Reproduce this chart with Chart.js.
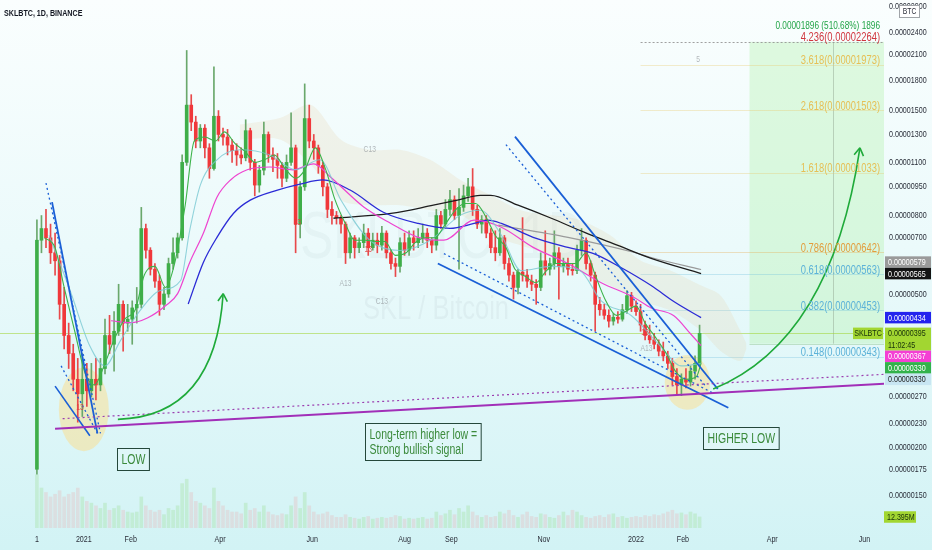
<!DOCTYPE html>
<html><head><meta charset="utf-8">
<script src="https://cdn.jsdelivr.net/npm/chart.js@4.4.1/dist/chart.umd.min.js"></script>
<style>html,body{margin:0;padding:0;overflow:hidden;background:#eefbfc}#c{display:block}</style>
</head><body>
<canvas id="c" width="932" height="550"></canvas>
<script>
// ---------- DATA (prices in satoshi = 1e-8 BTC, x = days from 2021-01-01) ----------
const firstCandleDay = -31;          // 2020-12-01
const candleStep = 3;                // each drawn candle = 3 days
const opens = [175,690,740,700,640,610,470,390,350,300, 275,300,280,300,290,320,390,370,400,470,
 420,430,460,470,740,650,580,540,470,500, 600,640,700,1100,1550,1400,1250,1350,1200,1060,
 1450,1300,1280,1220,1180,1150,1130,1330,1100,960, 1050,1300,1150,1120,1080,1000,1100,1200,760,950,
 1430,1250,1200,1080,950,830,800,790,760,640, 700,660,680,720,660,690,670,720,640,600,
 590,680,650,700,680,700,720,690,670,800, 760,830,880,800,840,900,950,830,760,780,
 720,660,640,700,600,560,520,570,560,540, 530,520,610,580,600,640,590,600,580,575,
 650,690,600,560,470,455,440,425,435,430, 455,495,465,450,415,390,380,370,355,345,
 330,305,290,300,295,315,330];
const highs = [780,800,830,760,720,630,520,420,370,340, 350,330,330,340,340,430,440,450,530,480,
 470,480,520,840,760,660,600,560,520,620, 700,720,1150,2150,1650,1450,1380,1380,1230,1950,
 1500,1350,1340,1260,1230,1200,1420,1350,1120,1080, 1400,1320,1200,1160,1100,1150,1480,1220,980,1760,
 1550,1300,1220,1100,970,870,820,800,770,720, 710,700,760,740,720,720,750,730,650,620,
 700,720,730,730,740,760,740,700,830,820, 880,930,900,940,960,1000,1060,850,800,800,
 740,730,740,710,620,570,580,790,580,560, 545,640,730,620,730,660,620,620,600,670,
 740,700,610,570,490,470,455,445,450,470, 510,505,480,470,425,415,395,380,375,355,
 340,320,310,320,325,345,415];
const lows = [170,640,660,600,560,430,360,320,280,232, 240,255,270,265,280,310,350,315,390,355,
 400,370,420,460,620,560,520,440,455,490, 580,620,690,1080,1330,1200,1200,1130,1000,1050,
 1250,1220,1150,1100,1080,1090,1110,1050,900,920, 1020,1100,1040,1000,950,980,1080,640,700,930,
 1200,1120,1030,900,790,760,760,720,600,620, 620,640,660,630,650,640,650,620,580,555,
 570,630,630,650,660,680,660,640,650,740, 740,800,780,580,820,870,800,740,720,700,
 640,610,630,580,540,485,500,540,520,510, 470,510,560,560,580,485,570,560,560,565,
 630,580,540,400,440,430,410,415,420,425, 445,450,440,400,380,372,360,345,335,320,
 290,275,272,285,288,300,325];
const closes = [690,740,700,640,610,470,390,350,300,275, 300,280,300,290,320,390,370,400,470,420,
 430,460,470,740,650,580,540,470,500,600, 640,700,1100,1550,1400,1250,1350,1200,1060,1450,
 1300,1280,1220,1180,1150,1130,1330,1100,960,1050, 1300,1150,1120,1080,1000,1100,1200,760,950,1430,
 1250,1200,1080,950,830,800,790,760,640,700, 660,680,720,660,690,670,720,640,600,590,
 680,650,700,680,700,720,690,670,800,760, 830,880,800,840,900,950,830,760,780,720,
 660,640,700,600,560,520,570,560,540,530, 520,610,580,600,640,590,600,580,575,650,
 690,600,560,470,455,440,425,435,430,455, 495,465,450,415,390,380,370,355,345,330,
 305,290,300,295,315,330,395];
const volumes = [60,45,40,35,38,42,35,38,40,45, 35,30,28,25,22,28,20,22,25,20,
 18,17,18,35,25,20,18,20,15,22, 20,25,50,55,40,30,28,25,22,45,
 30,25,20,18,18,16,28,20,22,18, 25,18,15,14,16,15,25,35,22,40,
 25,18,15,16,18,14,12,12,15,12, 11,10,12,13,10,11,12,11,12,14,
 13,10,11,10,11,12,10,11,18,14, 16,20,15,22,18,25,18,14,12,14,
 12,13,18,16,20,14,12,15,18,13, 12,16,15,12,11,14,18,14,20,18,
 14,12,11,13,14,12,15,16,12,13, 11,12,13,12,14,13,15,14,16,18,
 20,16,17,15,18,16,12.395];

// moving averages
const fastMaDays = [-26,-19,-13,-6,1,7,14,20,27,34,40,47,54,60,67,73,80,87,93,100,107,113,120,126,133,140,146,153,160,166,173,179,186,193,199,206,213,219,226,232,239,246,252,259,266,272,279,285,292,299,305,312,318,325,332,338,345,352,358,365,371,378,385,391,398,405,408];
const fastMaValues = [700,660,520,400,310,290,330,380,430,455,560,590,520,600,850,1250,1280,1250,1320,1230,1170,1100,1120,1150,1060,1000,1050,1200,1050,880,760,690,690,685,685,630,640,680,700,700,760,830,860,860,790,710,660,580,555,535,570,600,600,600,640,560,480,440,450,465,420,385,350,315,300,305,330];
const tealMaDays = [-23,-9,4,14,24,37,50,64,70,77,88,103,123,140,156,170,189,209,229,249,262,276,289,309,328,342,362,381,395,408];
const tealMaValues = [711,510,366,325,377,452,510,542,732,960,1117,1186,1150,1052,1117,877,690,649,690,802,826,711,575,590,575,480,439,366,325,330];
const magentaMaDays = [18,31,42,54,62,70,79,88,97,108,123,138,152,163,185,203,221,238,258,276,297,320,342,364,375,390,401,408];
const magentaMaValues = [426,421,433,466,501,604,719,893,990,1052,1070,1052,1090,1008,842,763,702,690,778,746,661,600,535,489,460,439,394,367];
const blueMaDays = [69,79,88,99,110,128,143,158,176,198,221,242,258,267,276,297,320,337,355,375,391,408];
const blueMaValues = [471,604,702,811,877,932,966,990,932,816,763,741,763,778,763,702,661,637,586,526,475,434];
const blackMaDays = [165,203,231,247,262,269,287,309,331,353,375,408];
const blackMaValues = [787,810,851,877,903,903,851,787,723,669,619,565];
const grayMaDays = [274,320,364,375,408];
const grayMaValues = [755,702,641,622,579];
const cloudDays = [103,130,150,170,189,209,229,249,269,289,309,328,348,368,388,408,421,434,438];
const cloudTop = [1379,1437,1553,1260,1186,1186,1117,990,903,826,802,778,711,611,575,526,495,401,371];
const cloudBottom = [1260,1260,1084,877,851,851,826,802,711,669,630,575,526,480,452,401,355,335,360];

// drawn trend lines [day, value] pairs
const purpleSupport = [[-19,223],[529,292]];
const purpleDotted = [[-14,237],[529,309]];
const blueLeftLong = [[-21,867],[9,217]];
const blueLeftLongDotted = [[-25,972],[11,217]];
const blueLeftShort = [[-19,288],[4,214]];
const blueLeftShortDotted = [[-15,325],[9,217]];
const blueChannelLow = [[234,600],[426,253]];
const blueChannelLowDotted = [[238,637],[416,276]];
const blueChannelHigh = [[285,1283],[419,283]];
const blueChannelHighDotted = [[279,1223],[411,288]];
const arrowLeft = [[22.5,236],[86.8,240],[92.1,501]];
const arrowRight = [[416,283],[494,378],[513,1200]];
const ellipseLeft = [[-16.5,322],[16.5,195]];
const ellipseRight = [[384,347],[414,250]];

// fibonacci extension & long position
const fibRatios = ['4.236','3.618','2.618','1.618','0.786','0.618','0.382','0.148'];
const fibPrices = [2264,1973,1503,1033,642,563,453,343];
const fibStartDay = 368;
const positionEntry = 371.3, positionTarget = 2264, positionStartDay = 440, positionMidDay = 495;
const positionText = '0.00001896 (510.68%) 1896';

// notes
const noteTexts = [['LOW'],['Long-term higher low =','Strong bullish signal'],['HIGHER LOW']];
const noteDays = [22, 186, 409.3];
const noteValues = [186, 207, 211];
const tdTexts = ['13','13','13','13','A13','A13','C13','C13','5'];
const tdDays = [141,188,371,-2.5,173,372,197,189,406];
const tdValues = [765,651,396,254,531,360,477,1185,2033];

// axis
const xTickDays = [-31,0,31,90,151,212,243,304,365,396,455,516];
const xTickLabels = ['1','2021','Feb','Apr','Jun','Aug','Sep','Nov','2022','Feb','Apr','Jun'];
const yTickValues = [2900,2400,2100,1800,1500,1300,1100,950,800,700,500,270,230,200,175,150];
const badgeValues = [579,565,434,395,367,330,330];
const lastVolume = 12.395;
const countdown = '11:02:45';

// ---------- RENDER ----------
const FONT = '"Liberation Sans", Arial, sans-serif';
const SX = 0.75;
const GREEN = '#3fae49', RED = '#f0383b';
const candleDays = opens.map((_, i) => firstCandleDay + candleStep * i);
const isUp = i => closes[i] >= opens[i];
const pts = (days, vals) => days.map((d, i) => ({x: d, y: vals[i]}));
const seg = p => p.map(q => ({x: q[0], y: q[1]}));
const fmt = v => (v / 1e8).toFixed(8);

function txt(ctx, s, x, y, o) {
  ctx.save();
  ctx.font = (o.bold ? 'bold ' : '') + o.size + 'px ' + FONT;
  ctx.fillStyle = o.color;
  ctx.textBaseline = o.base || 'middle';
  ctx.textAlign = o.align || 'left';
  ctx.translate(x, y);
  ctx.scale(o.sx || SX, 1);
  ctx.fillText(s, 0, 0);
  ctx.restore();
}
function tw(ctx, s, o) {
  ctx.save();
  ctx.font = (o.bold ? 'bold ' : '') + o.size + 'px ' + FONT;
  const w = ctx.measureText(s).width * (o.sx || SX);
  ctx.restore();
  return w;
}

function lineDs(data, color, width, extra) {
  return Object.assign({type: 'line', data, borderColor: color, borderWidth: width,
    pointRadius: 0, fill: false, tension: 0, yAxisID: 'y'}, extra || {});
}

const decor = {
  id: 'decor',
  beforeDraw(chart) {
    const ctx = chart.ctx;
    const g = ctx.createLinearGradient(0, 0, 0, 550);
    g.addColorStop(0, '#fafefe'); g.addColorStop(0.45, '#ebfafb'); g.addColorStop(1, '#d2f3f5');
    ctx.fillStyle = g; ctx.fillRect(0, 0, 932, 550);
    const a = chart.chartArea;
    // watermark
    txt(ctx, 'SKLBTC, 1D', (a.left + a.right) / 2, 240, {size: 66, color: 'rgba(110,130,140,0.06)', align: 'center'});
    txt(ctx, 'SKL / Bitcoin', (a.left + a.right) / 2 - 6, 310, {size: 34, color: 'rgba(110,130,140,0.08)', align: 'center'});
  },
  beforeDatasetsDraw(chart) {
    const ctx = chart.ctx, a = chart.chartArea;
    const X = v => chart.scales.x.getPixelForValue(v), Y = v => chart.scales.y.getPixelForValue(v);
    ctx.save();
    ctx.beginPath(); ctx.rect(a.left, a.top, a.right - a.left, a.bottom - a.top); ctx.clip();
    // long position box
    const bx = X(positionStartDay), by = Y(positionTarget), bb = Y(positionEntry);
    ctx.fillStyle = 'rgba(185,242,180,0.42)';
    ctx.fillRect(bx, by, a.right - bx, bb - by);
    ctx.strokeStyle = 'rgba(140,160,140,0.45)'; ctx.lineWidth = 1;
    ctx.beginPath(); ctx.moveTo(Math.round(X(positionMidDay)) + 0.5, by); ctx.lineTo(Math.round(X(positionMidDay)) + 0.5, bb); ctx.stroke();
    ctx.strokeStyle = 'rgba(150,200,150,0.5)';
    ctx.beginPath(); ctx.moveTo(bx, Math.round(bb) + 0.5); ctx.lineTo(a.right, Math.round(bb) + 0.5); ctx.stroke();
    // fib lines
    const fibLineCol = ['rgba(150,150,150,0.9)','rgba(232,200,110,0.35)','rgba(232,200,110,0.35)','rgba(232,200,110,0.35)','rgba(230,170,80,0.35)','rgba(100,185,220,0.3)','rgba(100,185,220,0.3)','rgba(100,185,220,0.3)'];
    fibPrices.forEach((p, i) => {
      const y = Math.round(Y(p)) + 0.5;
      ctx.strokeStyle = fibLineCol[i];
      ctx.setLineDash(i === 0 ? [2, 2] : []);
      ctx.beginPath(); ctx.moveTo(X(fibStartDay), y); ctx.lineTo(a.right, y); ctx.stroke();
    });
    ctx.setLineDash([]);
    // highlight ellipses
    [ellipseLeft, ellipseRight].forEach(e => {
      const x1 = X(e[0][0]), x2 = X(e[1][0]), y1 = Y(e[0][1]), y2 = Y(e[1][1]);
      ctx.fillStyle = 'rgba(252,222,140,0.5)';
      ctx.beginPath(); ctx.ellipse((x1 + x2) / 2, (y1 + y2) / 2, (x2 - x1) / 2, (y2 - y1) / 2, 0, 0, Math.PI * 2); ctx.fill();
    });
    // current price line
    const cy = Math.round(Y(closes[closes.length - 1])) + 0.5;
    ctx.strokeStyle = 'rgba(160,212,50,0.55)';
    ctx.beginPath(); ctx.moveTo(a.left, cy); ctx.lineTo(a.right, cy); ctx.stroke();
    ctx.restore();
  },
  afterDatasetsDraw(chart) {
    const ctx = chart.ctx, a = chart.chartArea;
    const X = v => chart.scales.x.getPixelForValue(v), Y = v => chart.scales.y.getPixelForValue(v);
    ctx.save();
    // arrows
    [arrowLeft, arrowRight].forEach(ar => {
      const p = ar.map(q => ({x: X(q[0]), y: Y(q[1])}));
      ctx.strokeStyle = '#1faa3a'; ctx.lineWidth = 1.6;
      ctx.beginPath(); ctx.moveTo(p[0].x, p[0].y); ctx.quadraticCurveTo(p[1].x, p[1].y, p[2].x, p[2].y); ctx.stroke();
      const ang = Math.atan2(p[2].y - p[1].y, p[2].x - p[1].x);
      ctx.beginPath();
      [-0.55, 0.55].forEach(s => {
        ctx.moveTo(p[2].x, p[2].y);
        ctx.lineTo(p[2].x - 9 * Math.cos(ang + s), p[2].y - 9 * Math.sin(ang + s));
      });
      ctx.stroke();
    });
    // small TD labels
    tdTexts.forEach((t, i) => {
      const red = t === '13';
      txt(ctx, t, X(tdDays[i]), Y(tdValues[i]), {size: 9, color: red ? 'rgba(225,60,60,0.85)' : 'rgba(150,155,160,0.7)', align: 'center'});
    });
    // notes
    noteTexts.forEach((lines, i) => {
      const o = {size: 14, color: '#3b8a3b'};
      const w = Math.max(...lines.map(l => tw(ctx, l, o)));
      const lh = 15, h = lines.length * lh + 7;
      const x = Math.round(X(noteDays[i])) + 0.5, yc = Y(noteValues[i]);
      const y = Math.round(yc - h / 2) + 0.5;
      ctx.fillStyle = 'rgba(255,255,255,0.12)';
      ctx.fillRect(x, y, w + 8, h);
      ctx.strokeStyle = '#24473a'; ctx.lineWidth = 1;
      ctx.strokeRect(x, y, w + 8, h);
      lines.forEach((l, k) => txt(ctx, l, x + 4, y + 4 + lh / 2 + k * lh, o));
    });
    // fib labels
    const fibTxtCol = ['#d0373f','#e6bf55','#e6bf55','#e6bf55','#e39d3c','#5cb2d8','#5cb2d8','#5cb2d8'];
    fibPrices.forEach((p, i) => {
      txt(ctx, fibRatios[i] + '(' + fmt(p) + ')', a.right - 4, Y(p) - 4, {size: 12.5, color: fibTxtCol[i], align: 'right'});
    });
    txt(ctx, positionText, a.right - 4, Y(positionTarget) - 16, {size: 11, color: '#22a447', align: 'right'});
    ctx.restore();
  },
  afterDraw(chart) {
    const ctx = chart.ctx, a = chart.chartArea;
    const X = v => chart.scales.x.getPixelForValue(v), Y = v => chart.scales.y.getPixelForValue(v);
    const Y2 = v => chart.scales.y2.getPixelForValue(v);
    const ax = a.right + 5;
    // title
    txt(ctx, 'SKLBTC, 1D, BINANCE', 4, 13, {size: 9.5, bold: true, color: '#131722'});
    // x labels
    xTickDays.forEach((d, i) => txt(ctx, xTickLabels[i], X(d), 539, {size: 9.5, color: '#2a2e39', align: 'center'}));
    // y labels
    yTickValues.forEach(v => txt(ctx, fmt(v), ax, Math.max(6, Y(v)), {size: 9.5, color: '#2a2e39'}));
    // price badges with overlap resolution
    const bg = ['#9a9a9a','#141414','#2323ee','#a2d631','#f43fd4','#32b24b','#c8e6f2'];
    const fg = ['#ffffff','#ffffff','#ffffff','#17300a','#ffffff','#ffffff','#1c1c1c'];
    const H = 11.5, cur = 3;
    const tops = [], hs = [];
    badgeValues.forEach((v, i) => { hs[i] = i === cur ? 2 * H : H; tops[i] = Y(v) - H / 2; });
    for (let i = cur - 1; i >= 0; i--) tops[i] = Math.min(tops[i], tops[i + 1] - hs[i]);
    for (let i = cur + 1; i < badgeValues.length; i++) tops[i] = Math.max(tops[i], tops[i - 1] + hs[i - 1]);
    // symbol tag
    ctx.fillStyle = bg[cur];
    ctx.fillRect(a.right - 31, tops[cur], 30, H);
    txt(ctx, 'SKLBTC', a.right - 16, tops[cur] + H / 2 + 0.5, {size: 9.5, color: fg[cur], align: 'center'});
    badgeValues.forEach((v, i) => {
      ctx.fillStyle = bg[i];
      ctx.fillRect(a.right + 1, tops[i], 46, hs[i]);
      txt(ctx, fmt(v), a.right + 4, tops[i] + H / 2 + 0.5, {size: 9.5, color: fg[i]});
      if (i === cur) txt(ctx, countdown, a.right + 4, tops[i] + H * 1.5 + 0.5, {size: 9.5, color: fg[i]});
    });
    // volume badge
    const vy = Y2(lastVolume);
    ctx.fillStyle = '#a2d631';
    ctx.fillRect(a.right, vy - H / 2, 32, H);
    txt(ctx, (lastVolume).toFixed(3) + 'M', a.right + 3, vy + 0.5, {size: 9.5, color: '#17300a'});
    // BTC box
    ctx.fillStyle = '#ffffff'; ctx.fillRect(899.5, 5.5, 20, 12);
    ctx.strokeStyle = '#a0a4a8'; ctx.lineWidth = 1; ctx.strokeRect(899.5, 5.5, 20, 12);
    txt(ctx, 'BTC', 909.5, 12, {size: 9, color: '#2a2e39', align: 'center'});
  }
};

const datasets = [
  {type: 'bar', label: 'bodies', yAxisID: 'y', order: 49, grouped: false, barThickness: 3, minBarLength: 1,
   data: candleDays.map((d, i) => ({x: d, y: [Math.min(opens[i], closes[i]), Math.max(opens[i], closes[i])]})),
   backgroundColor: candleDays.map((d, i) => isUp(i) ? GREEN : RED)},
  {type: 'bar', label: 'wicks', yAxisID: 'y', order: 50, grouped: false, barThickness: 1,
   data: candleDays.map((d, i) => ({x: d, y: [lows[i], highs[i]]})),
   backgroundColor: candleDays.map((d, i) => isUp(i) ? '#6aa86c' : '#e8494b')},
  {type: 'bar', label: 'volume', yAxisID: 'y2', order: 100, grouped: false, barThickness: 3,
   data: candleDays.map((d, i) => ({x: d, y: volumes[i]})),
   backgroundColor: candleDays.map((d, i) => isUp(i) ? 'rgba(140,215,120,0.25)' : 'rgba(240,150,150,0.22)')},
  lineDs(pts(cloudDays, cloudTop), 'rgba(0,0,0,0)', 0, {fill: '+1', backgroundColor: 'rgba(228,205,158,0.2)', order: 90, tension: 0.3}),
  lineDs(pts(cloudDays, cloudBottom), 'rgba(0,0,0,0)', 0, {order: 91, tension: 0.3}),
  lineDs(pts(grayMaDays, grayMaValues), '#9a9a9a', 1.2, {order: 30, cubicInterpolationMode: 'monotone'}),
  lineDs(pts(blackMaDays, blackMaValues), '#1d1d1d', 1.3, {order: 29, cubicInterpolationMode: 'monotone'}),
  lineDs(pts(blueMaDays, blueMaValues), '#2b2bd6', 1.3, {order: 28, cubicInterpolationMode: 'monotone'}),
  lineDs(pts(magentaMaDays, magentaMaValues), '#ee44d0', 1.2, {order: 27, cubicInterpolationMode: 'monotone'}),
  lineDs(pts(tealMaDays, tealMaValues), 'rgba(120,200,210,0.8)', 1.1, {order: 26, cubicInterpolationMode: 'monotone'}),
  lineDs(pts(fastMaDays, fastMaValues), '#3cb34a', 1.1, {order: 25, cubicInterpolationMode: 'monotone'}),
  lineDs(seg(purpleSupport), '#a12fb8', 2, {order: 5}),
  lineDs(seg(purpleDotted), '#9b3fb0', 1.2, {order: 5, borderDash: [2, 3]}),
  lineDs(seg(blueLeftLong), '#1a5fd6', 1.8, {order: 5}),
  lineDs(seg(blueLeftLongDotted), '#1a5fd6', 1.3, {order: 5, borderDash: [2, 3]}),
  lineDs(seg(blueLeftShort), '#1a5fd6', 1.6, {order: 5}),
  lineDs(seg(blueLeftShortDotted), '#1a5fd6', 1.3, {order: 5, borderDash: [2, 3]}),
  lineDs(seg(blueChannelLow), '#1a5fd6', 1.8, {order: 5}),
  lineDs(seg(blueChannelLowDotted), '#1a5fd6', 1.3, {order: 5, borderDash: [2, 3]}),
  lineDs(seg(blueChannelHigh), '#1a5fd6', 1.8, {order: 5}),
  lineDs(seg(blueChannelHighDotted), '#1a5fd6', 1.3, {order: 5, borderDash: [2, 3]})
];

const chart = new Chart(document.getElementById('c'), {
  type: 'bar',
  data: {datasets},
  options: {
    responsive: false, animation: false, devicePixelRatio: 1, events: [],
    layout: {padding: {left: 0, top: 0, right: 48, bottom: 22}},
    plugins: {legend: {display: false}, tooltip: {enabled: false}},
    scales: {
      x: {type: 'linear', display: false, offset: false, min: -55.4, max: 528.9},
      y: {type: 'logarithmic', display: false, min: 123.1, max: 2909},
      y2: {type: 'linear', display: false, min: 0, max: 595}
    }
  },
  plugins: [decor]
});
</script>
</body></html>
